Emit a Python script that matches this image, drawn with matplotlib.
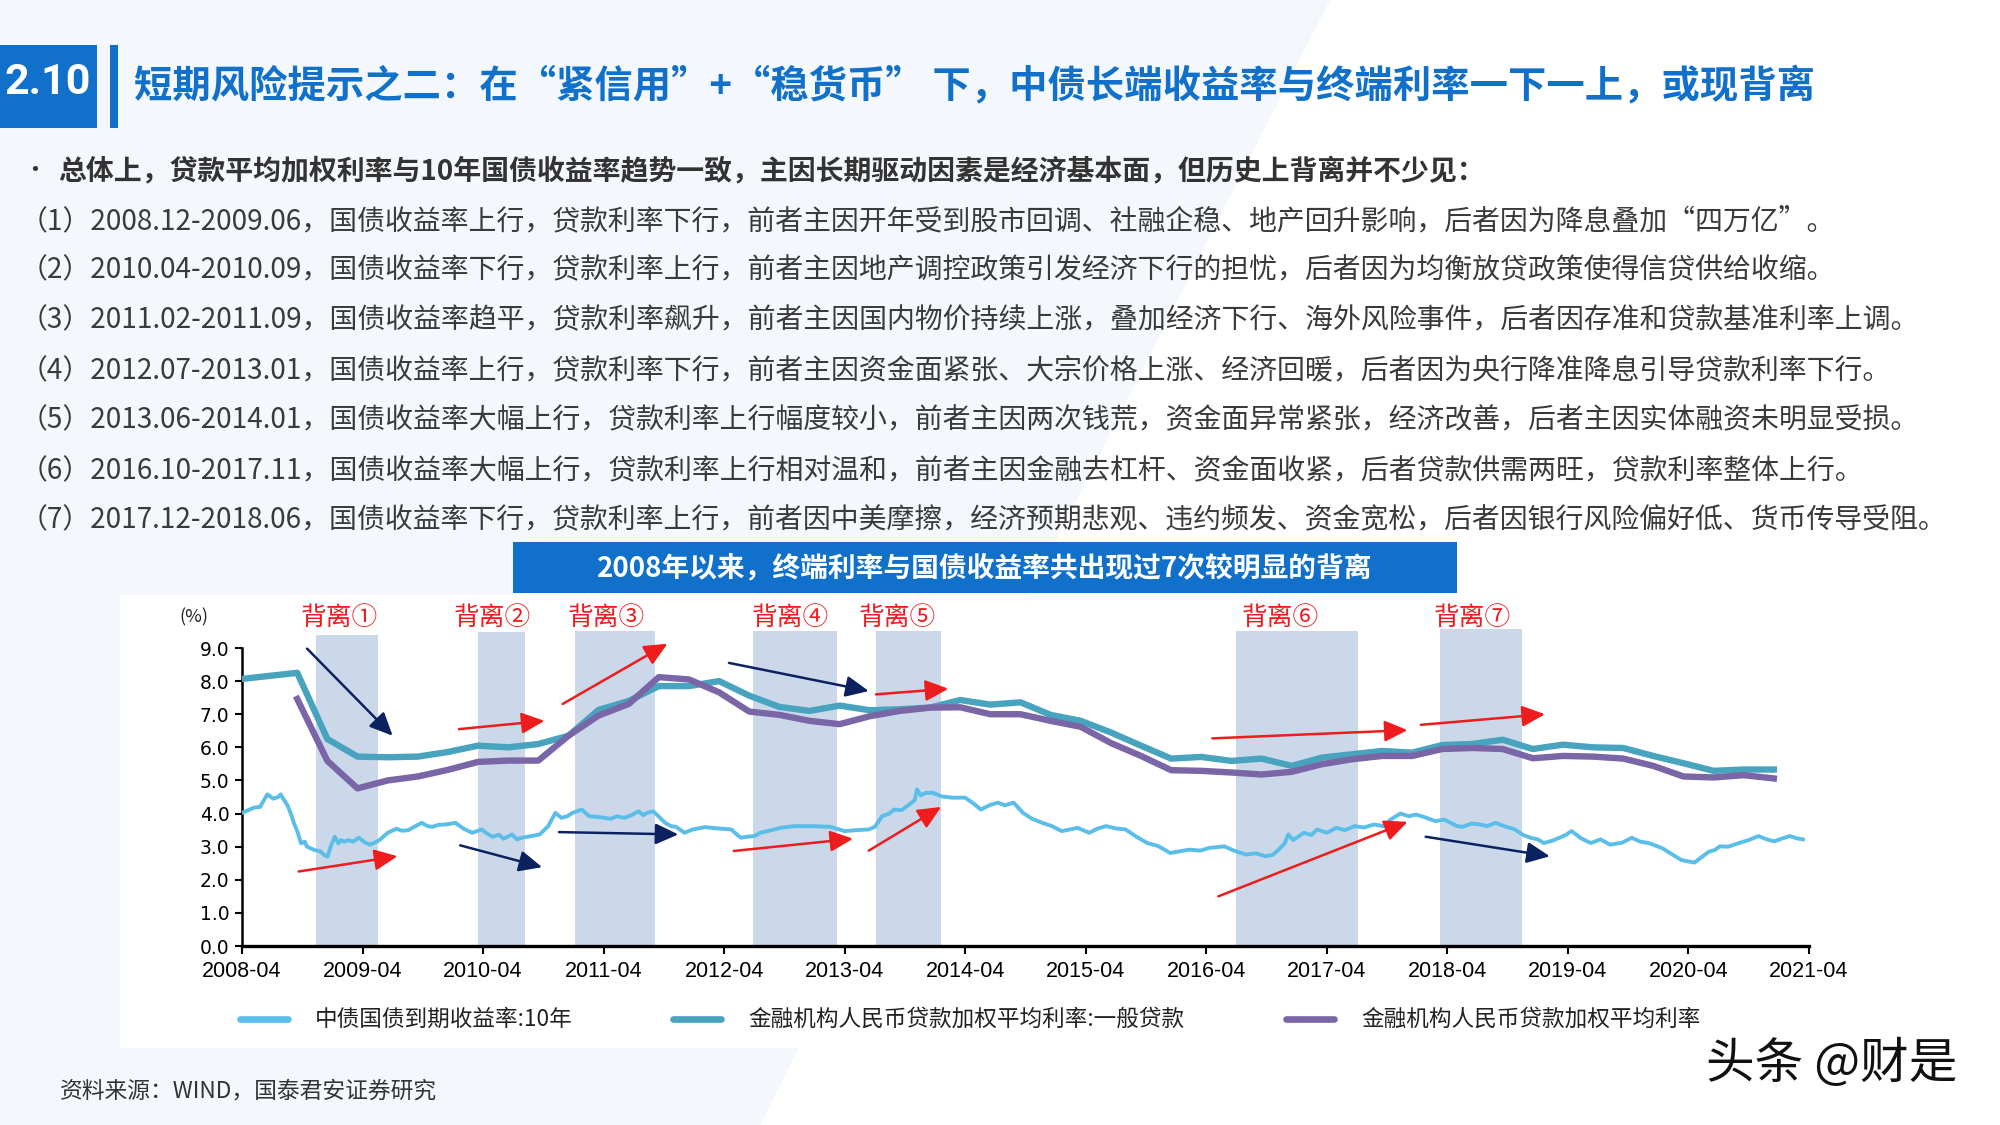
import matplotlib
matplotlib.use("Agg")
import matplotlib.pyplot as plt
from matplotlib.patches import Rectangle, Polygon
from matplotlib.lines import Line2D

plt.rcParams['font.family'] = ['Noto Sans CJK SC', 'DejaVu Sans']

# ---- data ----
# quarterly loan rates (month of quarter end)
loan_months = ['2008-03', '2008-06', '2008-09', '2008-12',
               '2009-03', '2009-06', '2009-09', '2009-12',
               '2010-03', '2010-06', '2010-09', '2010-12',
               '2011-03', '2011-06', '2011-09', '2011-12',
               '2012-03', '2012-06', '2012-09', '2012-12',
               '2013-03', '2013-06', '2013-09', '2013-12',
               '2014-03', '2014-06', '2014-09', '2014-12',
               '2015-03', '2015-06', '2015-09', '2015-12',
               '2016-03', '2016-06', '2016-09', '2016-12',
               '2017-03', '2017-06', '2017-09', '2017-12',
               '2018-03', '2018-06', '2018-09', '2018-12',
               '2019-03', '2019-06', '2019-09', '2019-12',
               '2020-03', '2020-06', '2020-09', '2020-12']
general_loan = [8.05, 8.15, 8.25, 6.25,
                5.72, 5.70, 5.72, 5.86,
                6.05, 6.00, 6.10, 6.35,
                7.13, 7.40, 7.85, 7.85,
                8.00, 7.56, 7.22, 7.10,
                7.26, 7.12, 7.15, 7.20,
                7.43, 7.29, 7.36, 6.98,
                6.80, 6.45, 6.05, 5.66,
                5.71, 5.59, 5.66, 5.44,
                5.69, 5.79, 5.89, 5.84,
                6.07, 6.10, 6.23, 5.95,
                6.08, 6.00, 5.98, 5.74,
                5.52, 5.29, 5.33, 5.33]
# average loan rate starts in 2008-09
avg_loan = [None, None, 7.46, 5.59,
            4.76, 5.00, 5.12, 5.32,
            5.56, 5.60, 5.60, 6.35,
            6.96, 7.31, 8.12, 8.05,
            7.66, 7.08, 6.98, 6.80,
            6.70, 6.94, 7.10, 7.20,
            7.21, 7.00, 7.00, 6.80,
            6.62, 6.13, 5.74, 5.31,
            5.29, 5.24, 5.18, 5.26,
            5.49, 5.64, 5.74, 5.74,
            5.95, 5.98, 5.95, 5.67,
            5.74, 5.72, 5.66, 5.44,
            5.12, 5.09, 5.16, 5.06]

# 10y government bond yield (decimal year, %)
bond_t = [2008.25, 2008.30, 2008.35, 2008.40, 2008.46, 2008.51, 2008.55, 2008.57, 2008.63, 2008.66,
          2008.68, 2008.71, 2008.74, 2008.77, 2008.79, 2008.82, 2008.85, 2008.90, 2008.93, 2008.96,
          2008.99, 2009.02, 2009.05, 2009.07, 2009.10, 2009.13, 2009.17, 2009.22, 2009.26, 2009.31,
          2009.35, 2009.39, 2009.46, 2009.53, 2009.58, 2009.63, 2009.69, 2009.74, 2009.79, 2009.83,
          2009.88, 2009.94, 2010.02, 2010.09, 2010.16, 2010.24, 2010.28, 2010.33, 2010.38, 2010.42,
          2010.49, 2010.53, 2010.57, 2010.65, 2010.72, 2010.79, 2010.85, 2010.90, 2010.95, 2010.99,
          2011.07, 2011.13, 2011.22, 2011.31, 2011.36, 2011.42, 2011.48, 2011.54, 2011.58, 2011.61,
          2011.66, 2011.71, 2011.76, 2011.81, 2011.85, 2011.92, 2011.99, 2012.09, 2012.20, 2012.31,
          2012.36, 2012.39, 2012.44, 2012.50, 2012.55, 2012.61, 2012.72, 2012.83, 2012.98, 2013.13,
          2013.25, 2013.35, 2013.45, 2013.50, 2013.56, 2013.62, 2013.66, 2013.72, 2013.77, 2013.83,
          2013.85, 2013.88, 2013.92, 2013.98, 2014.05, 2014.14, 2014.25, 2014.32, 2014.38, 2014.45,
          2014.52, 2014.58, 2014.65, 2014.73, 2014.80, 2014.89, 2014.97, 2015.05, 2015.12, 2015.18,
          2015.28, 2015.35, 2015.42, 2015.50, 2015.58, 2015.67, 2015.76, 2015.85, 2015.95, 2016.03,
          2016.11, 2016.20, 2016.27, 2016.40, 2016.48, 2016.58, 2016.66, 2016.74, 2016.80, 2016.85,
          2016.90, 2016.93, 2016.97, 2017.06, 2017.12, 2017.17, 2017.25, 2017.33, 2017.40, 2017.48,
          2017.56, 2017.64, 2017.72, 2017.78, 2017.86, 2017.93, 2017.99, 2018.07, 2018.15, 2018.22,
          2018.28, 2018.33, 2018.38, 2018.45, 2018.52, 2018.58, 2018.65, 2018.72, 2018.81, 2018.88,
          2018.94, 2019.00, 2019.05, 2019.12, 2019.18, 2019.23, 2019.28, 2019.36, 2019.44, 2019.52,
          2019.60, 2019.70, 2019.78, 2019.85, 2019.92, 2020.03, 2020.10, 2020.14, 2020.19, 2020.24,
          2020.30, 2020.35, 2020.42, 2020.47, 2020.51, 2020.58, 2020.67, 2020.75, 2020.83, 2020.90,
          2020.96, 2021.03, 2021.09, 2021.15, 2021.20]
bond_10y = [4.02, 4.10, 4.18, 4.20, 4.58, 4.45, 4.50, 4.58, 4.23, 3.95,
            3.72, 3.45, 3.10, 3.15, 3.00, 2.95, 2.90, 2.86, 2.75, 2.70,
            3.05, 3.30, 3.10, 3.20, 3.15, 3.20, 3.15, 3.27, 3.15, 3.06,
            3.12, 3.20, 3.42, 3.54, 3.48, 3.50, 3.62, 3.72, 3.62, 3.60,
            3.66, 3.67, 3.72, 3.54, 3.42, 3.52, 3.40, 3.30, 3.36, 3.24,
            3.37, 3.22, 3.27, 3.32, 3.37, 3.62, 4.02, 3.87, 3.92, 4.02,
            4.12, 3.92, 3.89, 3.84, 3.92, 3.87, 3.95, 4.07, 3.95, 4.02,
            4.07, 3.90, 3.72, 3.62, 3.60, 3.42, 3.52, 3.59, 3.55, 3.52,
            3.35, 3.27, 3.30, 3.32, 3.42, 3.47, 3.57, 3.62, 3.62, 3.60,
            3.47, 3.50, 3.52, 3.60, 3.92, 4.00, 4.12, 4.10, 4.23, 4.40,
            4.73, 4.55, 4.62, 4.63, 4.52, 4.48, 4.48, 4.30, 4.12, 4.25,
            4.33, 4.25, 4.33, 4.02, 3.85, 3.72, 3.62, 3.47, 3.52, 3.57,
            3.42, 3.55, 3.62, 3.55, 3.52, 3.30, 3.11, 3.02, 2.81, 2.86,
            2.91, 2.88, 2.96, 3.01, 2.88, 2.76, 2.80, 2.71, 2.75, 2.91,
            3.10, 3.37, 3.20, 3.42, 3.35, 3.52, 3.42, 3.57, 3.50, 3.62,
            3.58, 3.67, 3.62, 3.82, 4.00, 3.92, 3.97, 3.88, 3.77, 3.82,
            3.72, 3.62, 3.60, 3.70, 3.67, 3.62, 3.72, 3.62, 3.52, 3.35,
            3.27, 3.22, 3.11, 3.18, 3.27, 3.35, 3.47, 3.25, 3.11, 3.22,
            3.06, 3.12, 3.27, 3.15, 3.11, 2.96, 2.80, 2.71, 2.60, 2.56,
            2.52, 2.66, 2.85, 2.90, 3.01, 3.00, 3.11, 3.20, 3.32, 3.22,
            3.16, 3.25, 3.32, 3.25, 3.22]

tick_years = list(range(2008, 2022))
tick_labels = ['%d-04' % y for y in tick_years]

# divergence periods (start, end) and labels
div_start = [2008.86, 2010.21, 2011.01, 2012.49, 2013.51, 2016.50, 2018.19]
div_end = [2009.38, 2010.60, 2011.68, 2013.19, 2014.05, 2017.51, 2018.87]
div_top = [9.38, 9.48, 9.5, 9.5, 9.5, 9.5, 9.58]
div_labels = ['背离①', '背离②', '背离③', '背离④', '背离⑤', '背离⑥', '背离⑦']
div_label_x = [2009.06, 2010.33, 2011.27, 2012.80, 2013.69, 2016.86, 2018.46]

# arrows: (x0, y0, x1, y1, colour key)
arrows = [(2008.79, 8.98, 2009.50, 6.35, 'b'),
          (2008.72, 2.25, 2009.54, 2.71, 'r'),
          (2010.05, 6.55, 2010.76, 6.80, 'r'),
          (2010.06, 3.04, 2010.74, 2.38, 'b'),
          (2010.91, 7.31, 2011.78, 9.13, 'r'),
          (2010.88, 3.44, 2011.87, 3.37, 'b'),
          (2012.29, 8.55, 2013.45, 7.70, 'b'),
          (2012.33, 2.87, 2013.32, 3.24, 'r'),
          (2013.51, 7.60, 2014.11, 7.77, 'r'),
          (2013.45, 2.88, 2014.05, 4.20, 'r'),
          (2016.30, 6.27, 2017.92, 6.52, 'r'),
          (2016.35, 1.50, 2017.92, 3.75, 'r'),
          (2018.03, 6.68, 2019.06, 7.00, 'r'),
          (2018.07, 3.30, 2019.10, 2.71, 'b')]

legend_names = ['中债国债到期收益率:10年', '金融机构人民币贷款加权平均利率:一般贷款', '金融机构人民币贷款加权平均利率']

title = '短期风险提示之二：在“紧信用”+“稳货币” 下，中债长端收益率与终端利率一下一上，或现背离'
bullet = '总体上，贷款平均加权利率与10年国债收益率趋势一致，主因长期驱动因素是经济基本面，但历史上背离并不少见：'
items = ['（1）2008.12-2009.06，国债收益率上行，贷款利率下行，前者主因开年受到股市回调、社融企稳、地产回升影响，后者因为降息叠加“四万亿”。',
         '（2）2010.04-2010.09，国债收益率下行，贷款利率上行，前者主因地产调控政策引发经济下行的担忧，后者因为均衡放贷政策使得信贷供给收缩。',
         '（3）2011.02-2011.09，国债收益率趋平，贷款利率飙升，前者主因国内物价持续上涨，叠加经济下行、海外风险事件，后者因存准和贷款基准利率上调。',
         '（4）2012.07-2013.01，国债收益率上行，贷款利率下行，前者主因资金面紧张、大宗价格上涨、经济回暖，后者因为央行降准降息引导贷款利率下行。',
         '（5）2013.06-2014.01，国债收益率大幅上行，贷款利率上行幅度较小，前者主因两次钱荒，资金面异常紧张，经济改善，后者主因实体融资未明显受损。',
         '（6）2016.10-2017.11，国债收益率大幅上行，贷款利率上行相对温和，前者主因金融去杠杆、资金面收紧，后者贷款供需两旺，贷款利率整体上行。',
         '（7）2017.12-2018.06，国债收益率下行，贷款利率上行，前者因中美摩擦，经济预期悲观、违约频发、资金宽松，后者因银行风险偏好低、货币传导受阻。']
chart_title = '2008年以来，终端利率与国债收益率共出现过7次较明显的背离'
source = '资料来源：WIND，国泰君安证券研究'

c_bond = '#5BBEE8'
c_gen = '#48A4BE'
c_avg = '#7A65A7'
c_shade = '#CBD8EA'
c_red = '#EE1C1C'
c_navy = '#0C2260'
c_blue = '#1170C9'


def to_dec(m):
    y, mo = m.split('-')
    return int(y) + (int(mo) - 0.5) / 12


def fx(x):
    return x / 2000


def fy(y):
    return 1 - y / 1125


fig = plt.figure(figsize=(20, 11.25), dpi=100)
fig.patch.set_facecolor('white')

# faint slide background shapes
fig.add_artist(Polygon([[0, 1], [fx(1330), 1], [fx(760), 0], [0, 0]], closed=True,
                       transform=fig.transFigure, facecolor='#F4F8FC', edgecolor='none', zorder=0))
fig.add_artist(Rectangle((fx(120), fy(1048)), fx(1850 - 120), (1048 - 595) / 1125,
                         transform=fig.transFigure, facecolor='white', edgecolor='none', zorder=0))

# header
fig.add_artist(Rectangle((0, fy(128)), fx(97), 83 / 1125, transform=fig.transFigure,
                         facecolor=c_blue, edgecolor='none'))
fig.add_artist(Rectangle((fx(110), fy(128)), fx(8), 83 / 1125, transform=fig.transFigure,
                         facecolor=c_blue, edgecolor='none'))
fig.text(fx(48), fy(82), '2.10', color='white', fontsize=31, fontweight='bold',
         ha='center', va='center', family=['Roboto', 'DejaVu Sans'])
fig.text(fx(134), fy(86), title, color=c_blue, fontsize=27.6, fontweight='bold',
         ha='left', va='center')

# bullet text
fig.text(fx(22), fy(171), '•', color='#333333', fontsize=18, ha='left', va='center')
fig.text(fx(58), fy(171), bullet, color='#333333', fontsize=20.1, fontweight='bold',
         ha='left', va='center')
item_y = [221, 270, 320, 370, 420, 471, 520]
for t, yy in zip(items, item_y):
    fig.text(fx(20), fy(yy), t, color='#3A3A3A', fontsize=20.1, ha='left', va='center')

# chart banner
fig.add_artist(Rectangle((fx(513), fy(593)), fx(1457 - 513), 51 / 1125, transform=fig.transFigure,
                         facecolor=c_blue, edgecolor='none'))
fig.text(fx(985), fy(568), chart_title, color='white', fontsize=20, fontweight='bold',
         ha='center', va='center')

# ---- chart ----
ax = fig.add_axes([fx(242), fy(946), fx(1809 - 242), (946 - 648) / 1125])
ax.set_facecolor('none')

for s, e, top in zip(div_start, div_end, div_top):
    ax.axvspan(s, e, ymin=0, ymax=top / 9, facecolor=c_shade, edgecolor='none',
               clip_on=False, zorder=1)
for lab, x in zip(div_labels, div_label_x):
    ax.text(x, 9.92, lab, color=c_red, fontsize=18.5, ha='center', va='center',
            fontweight='light', clip_on=False)

loan_x = [to_dec(m) for m in loan_months]
ax.plot(bond_t, bond_10y, color=c_bond, lw=2.8, zorder=3)
ax.plot(loan_x, general_loan, color=c_gen, lw=4.6, zorder=4, solid_joinstyle='round')
avg_x = [x for x, v in zip(loan_x, avg_loan) if v is not None]
avg_v = [v for v in avg_loan if v is not None]
ax.plot(avg_x, avg_v, color=c_avg, lw=4.6, zorder=5, solid_joinstyle='round')

for x0, y0, x1, y1, c in arrows:
    col = c_red if c == 'r' else c_navy
    ax.annotate('', xy=(x1, y1), xytext=(x0, y0), annotation_clip=False, zorder=6,
                arrowprops=dict(arrowstyle='-|>,head_length=0.7,head_width=0.32', color=col,
                                lw=1.8, mutation_scale=20, shrinkA=0, shrinkB=0))

ax.set_xlim(2008.25, 2021.25)
ax.set_ylim(0, 9)
ax.set_xticks([y + 0.25 for y in tick_years])
ax.set_xticklabels(tick_labels, family=['Liberation Sans', 'DejaVu Sans'], fontsize=15.5)
ax.set_yticks(range(0, 10))
ax.set_yticklabels(['%.1f' % v for v in range(0, 10)], family=['DejaVu Sans'], fontsize=13.5)
ax.spines['top'].set_visible(False)
ax.spines['right'].set_visible(False)
ax.spines['left'].set_linewidth(1.8)
ax.spines['bottom'].set_linewidth(2.4)
ax.tick_params(axis='x', direction='out', length=6, width=1.5, pad=5)
ax.tick_params(axis='y', direction='out', length=5, width=1.5, pad=4)
fig.text(fx(194), fy(617), '(%)', fontsize=13, ha='center', va='center', color='#222222')

# legend
leg_x = [240, 673, 1286]
leg_c = [c_bond, c_gen, c_avg]
for lx, lc, name in zip(leg_x, leg_c, legend_names):
    fig.add_artist(Line2D([fx(lx), fx(lx + 48)], [fy(1019), fy(1019)], transform=fig.transFigure,
                          color=lc, lw=4.8, solid_capstyle='round'))
    fig.text(fx(lx + 75), fy(1019), name, fontsize=16.3, ha='left', va='center', color='#222222')

# footer
fig.text(fx(60), fy(1091), source, fontsize=16.4, ha='left', va='center', color='#333333')
fig.text(fx(1706), fy(1064), '头条 @财是', fontsize=35, fontweight='medium',
         ha='left', va='center', color='#111111')

fig.savefig('out.png', dpi=100, facecolor=fig.get_facecolor())
